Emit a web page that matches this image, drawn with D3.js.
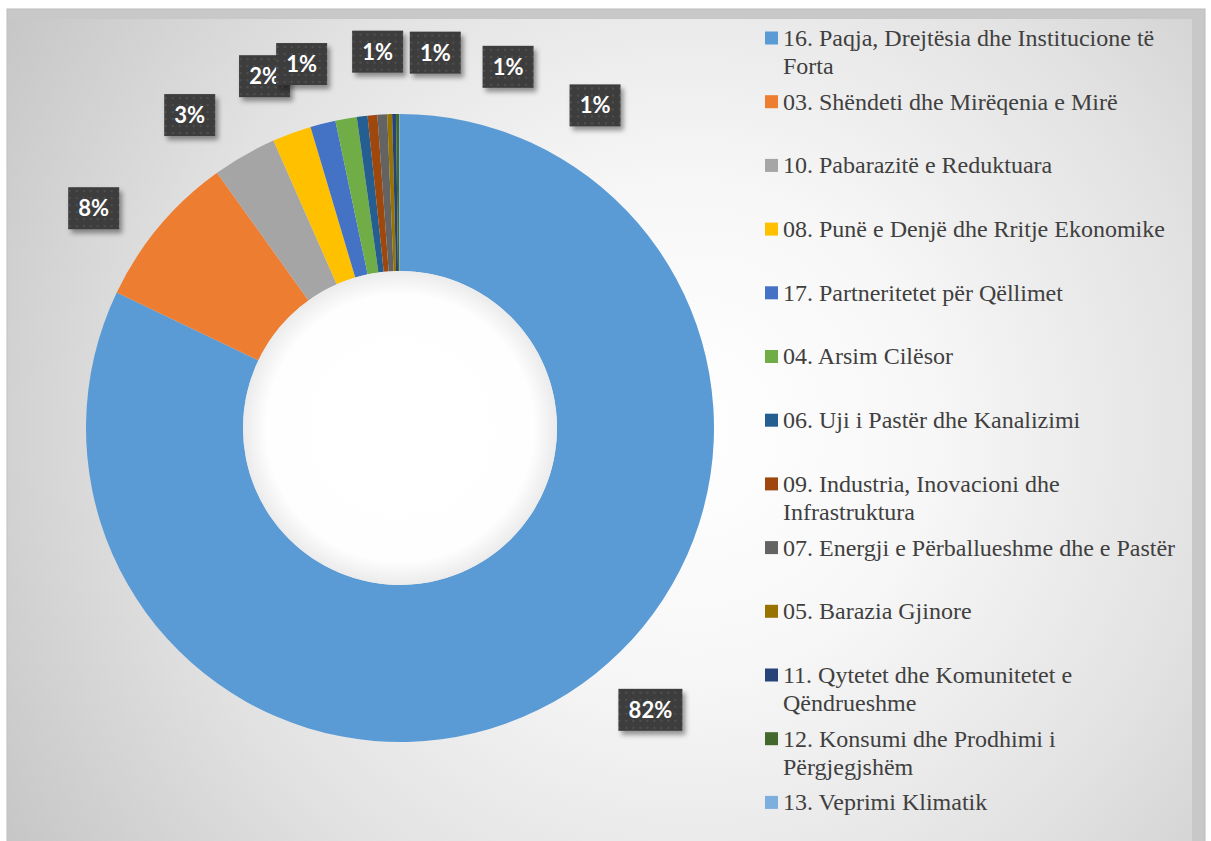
<!DOCTYPE html>
<html lang="sq">
<head>
<meta charset="UTF-8">
<title>Objektivat e Zhvillimit të Qëndrueshëm</title>
<script src="https://d3js.org/d3.v7.min.js"></script>
<style>
  body { margin: 0; background: #fff; }
  svg { display: block; }
</style>
</head>
<body>
<svg id="chart" width="1211" height="841"></svg>
<script>

// legend text, "\n" marks where the legend wraps
var categories = [
  "16. Paqja, Drejtësia dhe Institucione të\nForta",
  "03. Shëndeti dhe Mirëqenia e Mirë",
  "10. Pabarazitë e Reduktuara",
  "08. Punë e Denjë dhe Rritje Ekonomike",
  "17. Partneritetet për Qëllimet",
  "04. Arsim Cilësor",
  "06. Uji i Pastër dhe Kanalizimi",
  "09. Industria, Inovacioni dhe\nInfrastruktura",
  "07. Energji e Përballueshme dhe e Pastër",
  "05. Barazia Gjinore",
  "11. Qytetet dhe Komunitetet e\nQëndrueshme",
  "12. Konsumi dhe Prodhimi i\nPërgjegjshëm",
  "13. Veprimi Klimatik"
];
var values = [82.1, 8.0, 3.3, 2.0, 1.3, 1.1, 0.55, 0.5, 0.5, 0.25, 0.2, 0.15, 0.05];
var colors = ["#5B9BD5", "#ED7D31", "#A5A5A5", "#FFC000", "#4472C4", "#70AD47",
              "#255E91", "#9E480E", "#636363", "#997300", "#264478", "#43682B", "#7CAFDD"];
// labels were dragged apart in the original, degrees of shift from slice middle
var labelNudge = [-9.4, -4.3, -4.2, -0.9, -0.9, 6.5, 12.3, 21.7, 34.4, 0, 0, 0, 0];

var svg = d3.select("#chart"),
    width = +svg.attr("width"),
    height = +svg.attr("height");

var cx = 400, cy = 428, rOuter = 314, rInner = 157, rLabel = 377;

var defs = svg.append("defs");

var bg = defs.append("radialGradient").attr("id", "bg")
  .attr("gradientUnits", "userSpaceOnUse")
  .attr("cx", 690).attr("cy", 430).attr("r", 800);
bg.append("stop").attr("offset", 0).attr("stop-color", "#ffffff");
bg.append("stop").attr("offset", 0.3).attr("stop-color", "#f7f7f7");
bg.append("stop").attr("offset", 0.65).attr("stop-color", "#e2e2e2");
bg.append("stop").attr("offset", 1).attr("stop-color", "#c6c6c6");

var hole = defs.append("radialGradient").attr("id", "hole");
hole.append("stop").attr("offset", 0).attr("stop-color", "#ffffff");
hole.append("stop").attr("offset", 0.85).attr("stop-color", "#fefefe");
hole.append("stop").attr("offset", 1).attr("stop-color", "#ebebeb");

var dots = defs.append("pattern").attr("id", "dots")
  .attr("patternUnits", "userSpaceOnUse")
  .attr("width", 7).attr("height", 7);
dots.append("rect").attr("width", 7).attr("height", 7).attr("fill", "#3d3d3d");
dots.append("rect").attr("x", 3).attr("y", 3).attr("width", 2).attr("height", 2).attr("fill", "#505050");

var shadow = defs.append("filter").attr("id", "shadow")
  .attr("x", "-30%").attr("y", "-30%").attr("width", "170%").attr("height", "170%");
shadow.append("feDropShadow").attr("dx", 3).attr("dy", 4)
  .attr("stdDeviation", 2.5).attr("flood-color", "#000").attr("flood-opacity", 0.4);

// frame
svg.append("rect").attr("x", 7).attr("y", 9).attr("width", 1198).attr("height", 840)
  .attr("fill", "#c8c8c8").attr("stroke", "#bcbcbc");
svg.append("rect").attr("x", 7.5).attr("y", 19).attr("width", 1184.5).attr("height", 830)
  .attr("fill", "url(#bg)");

var pie = d3.pie().sort(null).value(function (d) { return d; });
var arcs = pie(values);
var total = d3.sum(values);

var arc = d3.arc().innerRadius(rInner).outerRadius(rOuter);

var g = svg.append("g").attr("transform", "translate(" + cx + "," + cy + ")");

g.selectAll("path.slice")
  .data(arcs)
  .join("path")
  .attr("class", "slice")
  .attr("d", arc)
  .attr("fill", function (d, i) { return colors[i]; });

g.append("circle").attr("r", rInner).attr("fill", "url(#hole)");

// data labels
var labels = arcs.map(function (d, i) {
  var pct = Math.round(d.value / total * 100 + 1e-9);
  var a = (d.startAngle + d.endAngle) / 2 + labelNudge[i] * Math.PI / 180;
  return { text: pct + "%", pct: pct, x: rLabel * Math.sin(a), y: -rLabel * Math.cos(a) };
}).filter(function (d) { return d.pct > 0; });

var lab = g.selectAll("g.label")
  .data(labels)
  .join("g")
  .attr("class", "label")
  .attr("transform", function (d) { return "translate(" + d.x + "," + d.y + ")"; });

lab.append("rect").attr("fill", "url(#dots)").attr("filter", "url(#shadow)");

lab.append("text")
  .attr("text-anchor", "middle")
  .attr("dy", "0.36em")
  .attr("fill", "#fff")
  .style("font-family", "Lato, 'Open Sans', sans-serif")
  .style("font-weight", "bold")
  .style("font-size", "22px")
  .text(function (d) { return d.text; });

lab.each(function () {
  var t = d3.select(this).select("text").node().getComputedTextLength();
  var w = Math.round(t + 20), h = 42;
  d3.select(this).select("rect")
    .attr("x", -w / 2).attr("y", -h / 2).attr("width", w).attr("height", h);
});

// legend
var ly = d3.scalePoint().domain(d3.range(categories.length)).range([38, 802.4]);

var leg = svg.append("g").selectAll("g")
  .data(categories)
  .join("g")
  .attr("transform", function (d, i) { return "translate(765," + ly(i) + ")"; });

leg.append("rect")
  .attr("x", 0).attr("y", -6.5).attr("width", 13).attr("height", 13)
  .attr("fill", function (d, i) { return colors[i]; });

leg.append("text")
  .attr("fill", "#404040")
  .style("font-family", "'Liberation Serif', 'Times New Roman', serif")
  .style("font-size", "24px")
  .selectAll("tspan")
  .data(function (d) { return d.split("\n"); })
  .join("tspan")
  .attr("x", 18)
  .attr("y", function (d, j) { return j * 28; })
  .attr("dy", "0.33em")
  .text(function (d) { return d; });

</script>
</body>
</html>
